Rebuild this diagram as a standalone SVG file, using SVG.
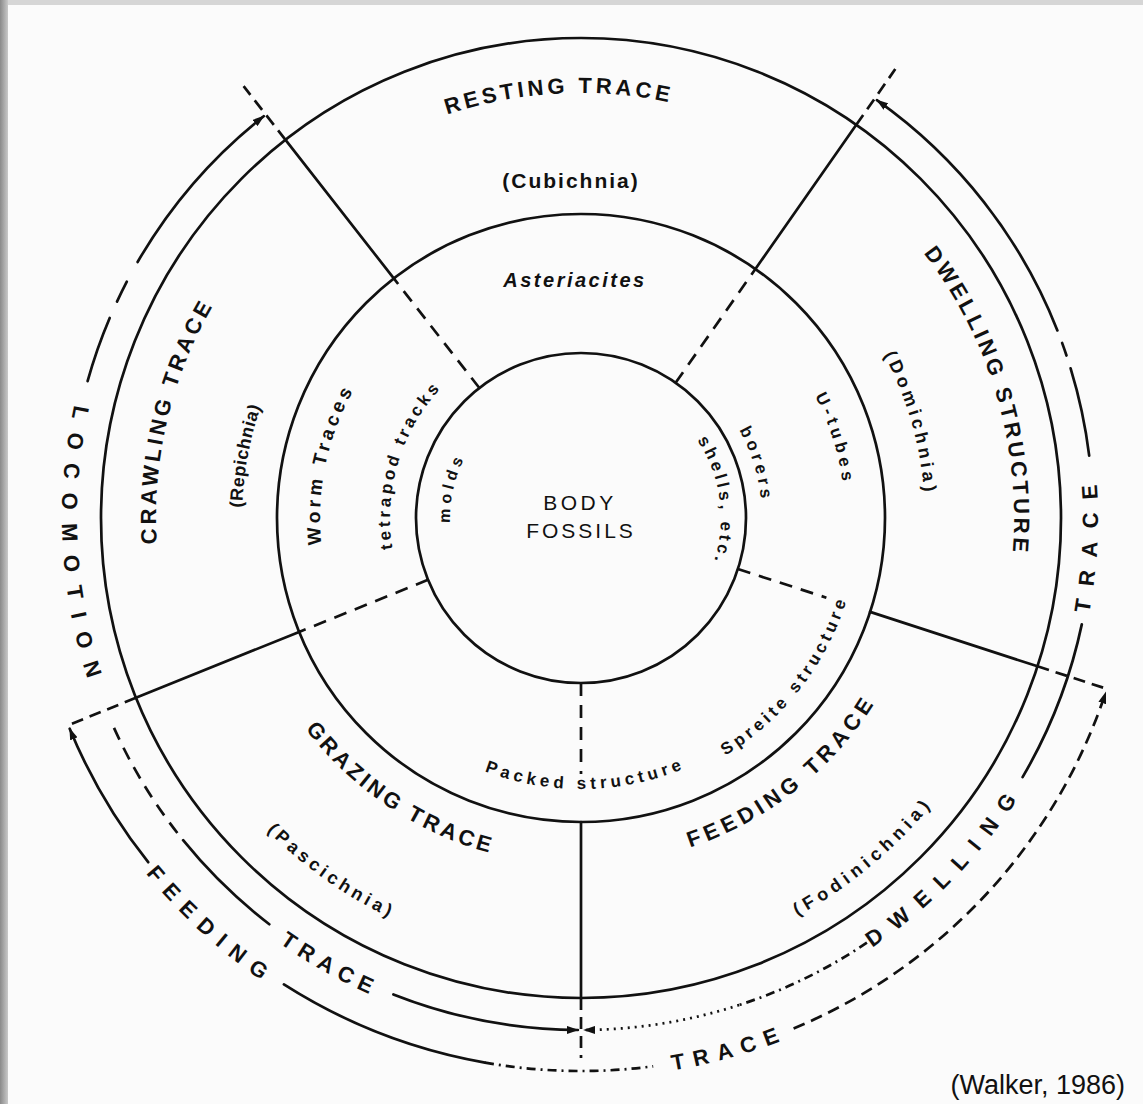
<svg xmlns="http://www.w3.org/2000/svg" width="1143" height="1104" viewBox="0 0 1143 1104">
<defs>
<style>
.ln{fill:none;stroke:#111;stroke-width:2.7;stroke-linecap:round}
.dash{stroke-dasharray:13 9;stroke-linecap:butt}
.dext{stroke-dasharray:12 7;stroke-linecap:butt}
.dot{stroke-dasharray:2 5;stroke-linecap:butt}
.dd{stroke-dasharray:9 5 2 5;stroke-linecap:butt}
.t{font-family:"Liberation Sans",Arial,sans-serif;fill:#111;font-weight:bold;text-anchor:middle}
.r{font-weight:normal}
.i{font-style:italic}
</style>
<marker id="ah" markerWidth="12" markerHeight="8" refX="11" refY="4" orient="auto" markerUnits="userSpaceOnUse"><path d="M0,0 L12,4 L0,8 z" fill="#111"/></marker>
<linearGradient id="edge" x1="0" x2="1" y1="0" y2="0"><stop offset="0" stop-color="#8a8a8a"/><stop offset="1" stop-color="#c9c9c9"/></linearGradient>
<path id="pLoco" d="M -286.4 -432.8 A 519 519 0 0 0 -231.6 464.5"/>
<path id="pTrL" d="M -521.0 6.4 A 521 521 0 0 0 266.0 448.0"/>
<path id="pFeed" d="M -549.3 -118.8 A 562 562 0 0 0 171.8 535.1"/>
<path id="pTrB" d="M -391.9 400.0 A 560 560 0 0 0 542.4 139.3"/>
<path id="pDwell" d="M -116.7 505.7 A 519 519 0 0 0 499.7 -140.4"/>
<path id="pTrR" d="M 237.1 459.4 A 517 517 0 0 0 279.3 -435.1"/>
<path id="pRest" d="M -378.7 -193.0 A 425 425 0 0 1 356.4 -231.5"/>
<path id="pCrawl" d="M -292.0 308.8 A 425 425 0 0 1 -121.4 -407.3"/>
<path id="pRep" d="M -220.1 257.8 A 339 339 0 0 1 -113.2 -319.5"/>
<path id="pWorm" d="M -174.6 194.0 A 261 261 0 0 1 -80.6 -248.2"/>
<path id="pTet" d="M -139.7 130.3 A 191 191 0 0 1 -43.0 -186.1"/>
<path id="pMolds" d="M -89.3 95.8 A 131 131 0 0 1 -38.3 -125.3"/>
<path id="pShells" d="M 53.8 -129.2 A 140 140 0 0 1 85.0 111.2"/>
<path id="pBorers" d="M 40.7 -176.4 A 181 181 0 0 1 132.4 123.4"/>
<path id="pUtub" d="M 58.0 -257.5 A 264 264 0 0 1 194.0 179.0"/>
<path id="pDomi" d="M 83.2 -333.8 A 344 344 0 0 1 247.4 239.0"/>
<path id="pDwStr" d="M 101.8 -420.9 A 433 433 0 0 1 313.6 298.6"/>
<path id="pGraz" d="M -346.3 -22.4 A 347 347 0 0 0 153.8 311.1"/>
<path id="pPasc" d="M -441.2 -40.1 A 443 443 0 0 0 185.8 402.2"/>
<path id="pFeedT" d="M -128.3 322.4 A 347 347 0 0 0 343.4 -50.1"/>
<path id="pFodi" d="M -156.4 425.1 A 453 453 0 0 0 446.4 -77.1"/>
<path id="pPack" d="M -232.3 139.6 A 271 271 0 0 0 237.0 131.4"/>
<path id="pSpre" d="M -37.3 275.5 A 278 278 0 0 0 257.2 -105.5"/>
</defs>
<rect width="1143" height="1104" fill="#fbfbfb"/>
<rect x="0" y="0" width="1143" height="5" fill="#d6d6d6"/>
<rect x="0" y="0" width="8" height="1104" fill="url(#edge)"/>
<g transform="translate(581 518)">
  <g id="rings">
    <circle class="ln" r="165"/>
    <circle class="ln" r="304"/>
    <circle class="ln" r="480"/>
  </g>
  <g id="connectors">
    <path class="ln dash" d="M -101.6 -130.0 L -187.2 -239.6"/>
    <path class="ln" d="M -187.2 -239.6 L -295.5 -378.2"/>
    <path class="ln dext" d="M -295.5 -378.2 L -337.4 -431.8"/>
    <path class="ln dash" d="M 94.6 -135.2 L 174.4 -249.0"/>
    <path class="ln" d="M 174.4 -249.0 L 275.3 -393.2"/>
    <path class="ln dext" d="M 275.3 -393.2 L 314.3 -448.9"/>
    <path class="ln dash" d="M 156.9 51.0 L 245.4 79.7"/>
    <path class="ln" d="M 289.1 93.9 L 456.5 148.3"/>
    <path class="ln dext" d="M 456.5 148.3 L 526.0 170.9"/>
    <path class="ln dash" d="M 0 165 L 0 256"/>
    <path class="ln" d="M 0 304 L 0 480"/>
    <path class="ln dext" d="M 0 480 L 0 540"/>
    <path class="ln dash" d="M -153.0 61.8 L -281.9 113.9"/>
    <path class="ln" d="M -281.9 113.9 L -445.1 179.8"/>
    <path class="ln dext" d="M -445.1 179.8 L -512.7 207.2"/>
    <path class="ln" d="M -493.4 -136.8 A 512 512 0 0 1 -471.3 -200.0"/>
    <path class="ln" d="M -464.0 -216.4 A 512 512 0 0 1 -454.2 -236.4"/>
    <path class="ln" d="M -443.4 -256.0 A 512 512 0 0 1 -317.3 -401.8" marker-end="url(#ah)"/>
    <path class="ln dash" d="M -467.0 209.9 A 512 512 0 0 0 -397.9 322.2"/>
    <path class="ln" d="M -397.9 322.2 A 512 512 0 0 0 -311.7 406.2"/>
    <path class="ln" d="M -187.6 476.4 A 512 512 0 0 0 -3.1 512.0" marker-end="url(#ah)"/>
    <path class="ln dot" d="M 158.2 487.0 A 512 512 0 0 1 3.1 512.0" marker-end="url(#ah)"/>
    <path class="ln dd" d="M 285.9 424.7 A 512 512 0 0 1 158.2 487.0"/>
    <path class="ln" d="M 441.6 259.1 A 512 512 0 0 0 500.8 106.4"/>
    <path class="ln" d="M 508.2 -62.4 A 512 512 0 0 0 489.6 -149.7"/>
    <path class="ln" d="M 485.5 -162.5 A 512 512 0 0 0 481.1 -175.1"/>
    <path class="ln" d="M 476.4 -187.6 A 512 512 0 0 0 295.9 -417.8" marker-end="url(#ah)"/>
    <path class="ln" d="M -432.8 344.2 A 553 553 0 0 1 -511.3 210.7" marker-end="url(#ah)"/>
    <path class="ln" d="M -297.1 466.4 A 553 553 0 0 0 -96.0 544.6"/>
    <path class="ln dd" d="M -96.0 544.6 A 553 553 0 0 0 72.2 548.3"/>
    <path class="ln dext" d="M 212.6 510.5 A 553 553 0 0 0 524.7 174.5" marker-end="url(#ah)"/>
  </g>
  <g id="outer-labels">
    <text class="t" font-size="22" letter-spacing="14"><textPath href="#pLoco" startOffset="50%">LOCOMOTION</textPath></text>
    <text class="t" font-size="22" letter-spacing="7"><textPath href="#pTrL" startOffset="50%">TRACE</textPath></text>
    <text class="t" font-size="22" letter-spacing="10"><textPath href="#pFeed" startOffset="50%">FEEDING</textPath></text>
    <text class="t" font-size="22" letter-spacing="9"><textPath href="#pTrB" startOffset="50%">TRACE</textPath></text>
    <text class="t" font-size="22" letter-spacing="13"><textPath href="#pDwell" startOffset="50%">DWELLING</textPath></text>
    <text class="t" font-size="22" letter-spacing="13.5"><textPath href="#pTrR" startOffset="50%">TRACE</textPath></text>
  </g>
  <g id="resting-trace">
    <text class="t" font-size="22" letter-spacing="3.7"><textPath href="#pRest" startOffset="50%">RESTING TRACE</textPath></text>
    <text class="t" font-size="21" letter-spacing="2" x="-10" y="-330">(Cubichnia)</text>
    <text class="t i" font-size="20" letter-spacing="2.5" x="-6" y="-231">Asteriacites</text>
  </g>
  <g id="crawling-trace">
    <text class="t" font-size="22" letter-spacing="3.5"><textPath href="#pCrawl" startOffset="50%">CRAWLING TRACE</textPath></text>
    <text class="t" font-size="18" letter-spacing="0.5"><textPath href="#pRep" startOffset="50%">(Repichnia)</textPath></text>
    <text class="t" font-size="19" letter-spacing="4"><textPath href="#pWorm" startOffset="50%">Worm Traces</textPath></text>
    <text class="t" font-size="17" letter-spacing="3.5"><textPath href="#pTet" startOffset="50%">tetrapod tracks</textPath></text>
  </g>
  <g id="body-fossils">
    <text class="t r" font-size="21" letter-spacing="3.5" x="-1" y="-8">BODY</text>
    <text class="t r" font-size="21" letter-spacing="3" x="0" y="20">FOSSILS</text>
    <text class="t" font-size="16" letter-spacing="4.5"><textPath href="#pMolds" startOffset="50%">molds</textPath></text>
    <text class="t" font-size="17" letter-spacing="3.5"><textPath href="#pShells" startOffset="50%">shells, etc.</textPath></text>
  </g>
  <g id="dwelling-structure">
    <text class="t" font-size="22" letter-spacing="3.5"><textPath href="#pDwStr" startOffset="50%">DWELLING STRUCTURE</textPath></text>
    <text class="t" font-size="18" letter-spacing="4"><textPath href="#pDomi" startOffset="50%">(Domichnia)</textPath></text>
    <text class="t" font-size="17" letter-spacing="4.5"><textPath href="#pUtub" startOffset="50%">U-tubes</textPath></text>
    <text class="t" font-size="17" letter-spacing="4"><textPath href="#pBorers" startOffset="50%">borers</textPath></text>
  </g>
  <g id="grazing-trace">
    <text class="t" font-size="22" letter-spacing="3.5"><textPath href="#pGraz" startOffset="50%">GRAZING TRACE</textPath></text>
    <text class="t" font-size="18" letter-spacing="4"><textPath href="#pPasc" startOffset="50%">(Pascichnia)</textPath></text>
    <text class="t" font-size="17" letter-spacing="4.3"><textPath href="#pPack" startOffset="50%">Packed structure</textPath></text>
  </g>
  <g id="feeding-trace">
    <text class="t" font-size="22" letter-spacing="4.8"><textPath href="#pFeedT" startOffset="50%">FEEDING TRACE</textPath></text>
    <text class="t" font-size="18" letter-spacing="5"><textPath href="#pFodi" startOffset="50%">(Fodinichnia)</textPath></text>
    <text class="t" font-size="17" letter-spacing="4"><textPath href="#pSpre" startOffset="50%">Spreite structure</textPath></text>
  </g>
</g>
<text id="citation" x="1125" y="1094" font-family="Liberation Sans, Arial, sans-serif" font-size="27" fill="#111" text-anchor="end">(Walker, 1986)</text>
</svg>
